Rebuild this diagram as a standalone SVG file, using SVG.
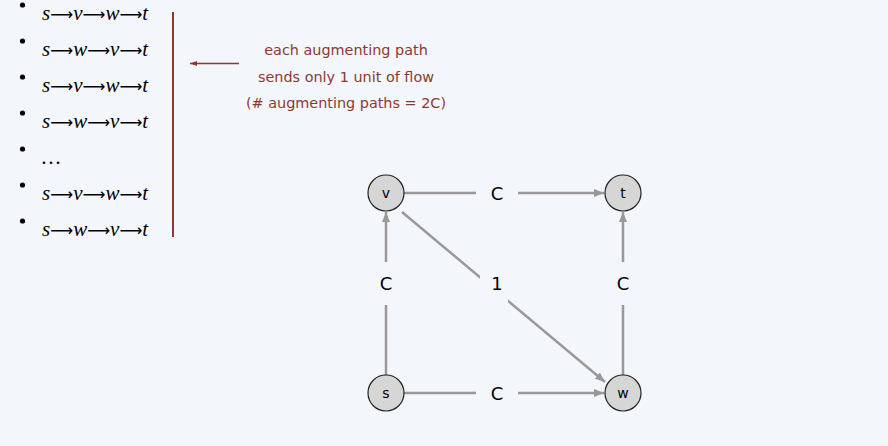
<svg xmlns="http://www.w3.org/2000/svg" width="888" height="446" viewBox="0 0 888 446">
<style>
.path{font-family:"Liberation Serif","Times New Roman",serif;font-style:italic;font-size:21px;fill:#000}
.path .a{font-family:"DejaVu Sans",sans-serif;font-style:normal;font-size:16px}
.note{font-family:"DejaVu Sans","Noto Sans",sans-serif;font-size:14.4px;fill:#8b3a32;text-anchor:middle}
.node circle{fill:#d6d6d6;stroke:#222;stroke-width:1.2}
.node text{font-family:"DejaVu Sans","Noto Sans",sans-serif;font-size:14px;fill:#000;text-anchor:middle}
.edge{stroke:#999;stroke-width:2.5;fill:none}
.lbl rect{fill:#f3f6fa}
.lbl text{font-family:"DejaVu Sans","Noto Sans",sans-serif;font-size:18px;fill:#000;text-anchor:middle}
</style>
<defs>
<marker id="ah" viewBox="0 0 10 8" refX="10" refY="4" markerWidth="10" markerHeight="8" markerUnits="userSpaceOnUse" orient="auto">
<path d="M0,0 L10,4 L0,8 Z" fill="#999"/>
</marker>
<marker id="rh" viewBox="0 0 7 5" refX="7" refY="2.5" markerWidth="7" markerHeight="5" markerUnits="userSpaceOnUse" orient="auto">
<path d="M0,0 L7,2.5 L0,5 Z" fill="#8b3a32"/>
</marker>
</defs>
<rect width="888" height="446" fill="#f3f6fa"/>
<g id="list">
<g fill="#000">
<circle cx="22.5" cy="5" r="2.6"/>
<circle cx="22.5" cy="41" r="2.6"/>
<circle cx="22.5" cy="77" r="2.6"/>
<circle cx="22.5" cy="113" r="2.6"/>
<circle cx="22.5" cy="149" r="2.6"/>
<circle cx="22.5" cy="185" r="2.6"/>
<circle cx="22.5" cy="221" r="2.6"/>
</g>
<text class="path" x="42" y="20">s<tspan class="a">⟶</tspan>v<tspan class="a">⟶</tspan>w<tspan class="a">⟶</tspan>t</text>
<text class="path" x="42" y="56">s<tspan class="a">⟶</tspan>w<tspan class="a">⟶</tspan>v<tspan class="a">⟶</tspan>t</text>
<text class="path" x="42" y="92">s<tspan class="a">⟶</tspan>v<tspan class="a">⟶</tspan>w<tspan class="a">⟶</tspan>t</text>
<text class="path" x="42" y="128">s<tspan class="a">⟶</tspan>w<tspan class="a">⟶</tspan>v<tspan class="a">⟶</tspan>t</text>
<text class="path" x="42" y="164" font-style="normal">…</text>
<text class="path" x="42" y="200">s<tspan class="a">⟶</tspan>v<tspan class="a">⟶</tspan>w<tspan class="a">⟶</tspan>t</text>
<text class="path" x="42" y="236">s<tspan class="a">⟶</tspan>w<tspan class="a">⟶</tspan>v<tspan class="a">⟶</tspan>t</text>
</g>
<g id="annotation">
<line x1="173" y1="12" x2="173" y2="237" stroke="#8b3a32" stroke-width="2"/>
<line x1="239" y1="63.5" x2="190" y2="63.5" stroke="#8b3a32" stroke-width="1.5" marker-end="url(#rh)"/>
<text class="note" x="346" y="55">each augmenting path</text>
<text class="note" x="346" y="81.5">sends only 1 unit of flow</text>
<text class="note" x="346" y="108">(# augmenting paths = 2C)</text>
</g>
<g id="connectors">
<line class="edge" x1="404" y1="193" x2="604" y2="193" marker-end="url(#ah)"/>
<line class="edge" x1="404" y1="393" x2="604" y2="393" marker-end="url(#ah)"/>
<line class="edge" x1="386" y1="375" x2="386" y2="212" marker-end="url(#ah)"/>
<line class="edge" x1="623" y1="375" x2="623" y2="212" marker-end="url(#ah)"/>
<line class="edge" x1="402" y1="212" x2="605" y2="382" marker-end="url(#ah)"/>
<g class="lbl">
<rect x="476" y="176" width="42" height="34"/>
<text x="497" y="200">C</text>
<rect x="476" y="376" width="42" height="34"/>
<text x="497" y="400">C</text>
<rect x="364" y="262" width="44" height="43"/>
<text x="386" y="290">C</text>
<rect x="601" y="262" width="44" height="43"/>
<text x="623" y="290">C</text>
<rect x="480" y="276" width="28" height="27"/>
<text x="497" y="290">1</text>
</g>
</g>
<g id="node-v" class="node"><circle cx="386" cy="193" r="18"/><text x="386" y="198">v</text></g>
<g id="node-t" class="node"><circle cx="623" cy="193" r="18"/><text x="623" y="198">t</text></g>
<g id="node-s" class="node"><circle cx="386" cy="393" r="18"/><text x="386" y="398">s</text></g>
<g id="node-w" class="node"><circle cx="623" cy="393" r="18"/><text x="623" y="398">w</text></g>
</svg>
